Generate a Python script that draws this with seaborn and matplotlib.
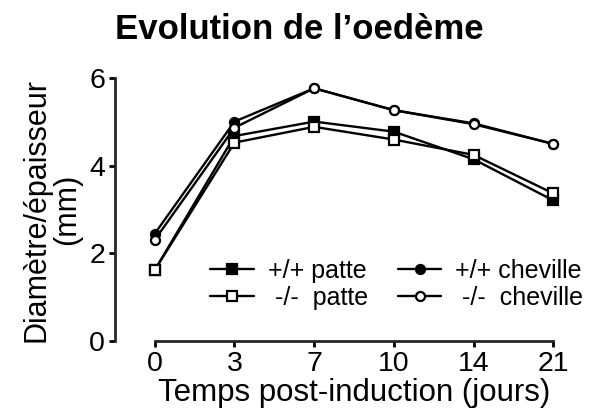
import numpy as np
import pandas as pd
import matplotlib
matplotlib.use("Agg")
import matplotlib.pyplot as plt
import seaborn as sns

sns.set_style("ticks")
plt.rcParams["font.family"] = ["Liberation Sans", "DejaVu Sans"]
plt.rcParams["text.color"] = "black"
plt.rcParams["axes.labelcolor"] = "black"

# données
jours = ["0", "3", "7", "10", "14", "21"]
wt_patte = [1.62, 4.68, 5.01, 4.78, 4.15, 3.21]
ko_patte = [1.62, 4.53, 4.89, 4.60, 4.25, 3.37]
wt_cheville = [2.45, 5.01, 5.77, 5.27, 4.97, 4.50]
ko_cheville = [2.31, 4.87, 5.77, 5.27, 4.95, 4.50]

series = [
    ("+/+ patte", wt_patte, "s", "black", 7.5),
    (" -/-  patte", ko_patte, "s", "white", 7.5),
    ("+/+ cheville", wt_cheville, "o", "black", 9),
    (" -/-  cheville", ko_cheville, "o", "white", 9),
]

fig = plt.figure(figsize=(5.95, 4.16), dpi=100)
ax = fig.add_axes([0.193, 0.180, 0.804, 0.632])

x = np.arange(len(jours))
for label, vals, m, fc, ms in series:
    sns.lineplot(x=x, y=vals, ax=ax, color="black", lw=1.7, marker=m,
                 markersize=ms, markerfacecolor=fc, markeredgecolor="black",
                 markeredgewidth=1.6, label=label, clip_on=False)

ax.set_xlim(-0.5, 5.5)
ax.set_ylim(0, 6)
ax.set_xticks(x)
ax.set_xticklabels(jours)
ax.set_yticks([0, 2, 4, 6])
ax.spines["top"].set_visible(False)
ax.spines["right"].set_visible(False)
ax.spines["bottom"].set_bounds(0, 5)
ax.spines["left"].set_linewidth(2)
ax.spines["bottom"].set_linewidth(2)
ax.tick_params(width=2, length=4, labelsize=20.5, pad=3, colors="black")

ax.set_xlabel("Temps post-induction (jours)", fontsize=22.5, labelpad=1)
ax.set_ylabel("Diamètre/épaisseur\n(mm)", fontsize=22, labelpad=5, linespacing=1.05)
fig.text(0.503, 0.928, "Evolution de l\u2019oedème", fontsize=25, fontweight="bold",
         ha="center", va="center")

handles, labels = ax.get_legend_handles_labels()
for h in handles:
    h.set_markersize(6.5)
leg = ax.legend(handles, labels, ncol=2, loc="lower right", bbox_to_anchor=(1.0, 0.08),
                frameon=False, fontsize=18, handlelength=1.75, handletextpad=0.55,
                columnspacing=1.2, labelspacing=0.12, borderaxespad=0.0)

fig.savefig("out.png", dpi=100)
